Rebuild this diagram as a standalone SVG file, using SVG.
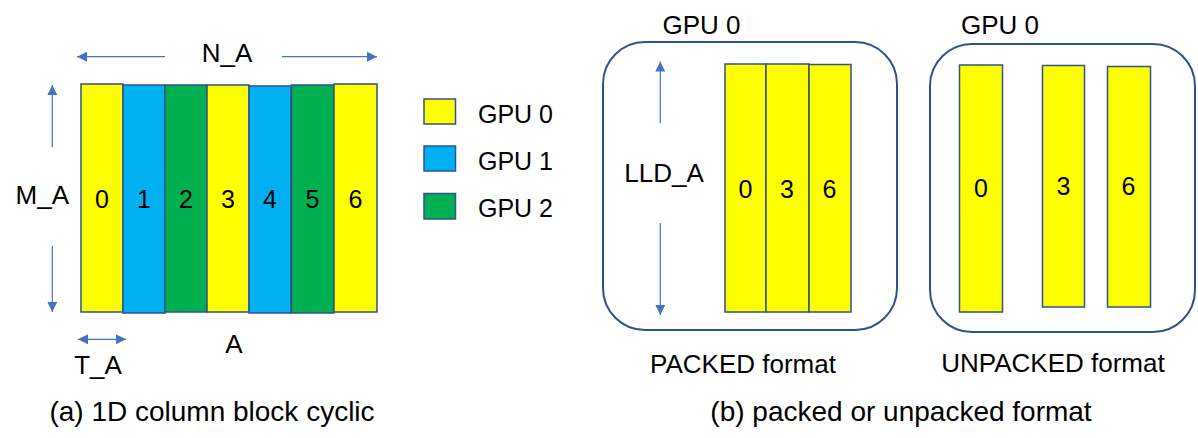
<svg xmlns="http://www.w3.org/2000/svg" width="1198" height="438" viewBox="0 0 1198 438">
<style>
text{font-family:"Liberation Sans",Arial,sans-serif;fill:#000;}
.lbl{font-size:26px;}
.dig{font-size:25px;text-anchor:middle;}
.cap{font-size:28px;text-anchor:middle;}
.y{fill:#FFFF00;stroke:#2F528F;stroke-width:1.5;}
.b{fill:#00B0F0;stroke:#2F528F;stroke-width:1.5;}
.g{fill:#00B050;stroke:#2F528F;stroke-width:1.5;}
.box{fill:none;stroke:#2F528F;stroke-width:2;}
.arr{stroke:#4472C4;stroke-width:1.2;fill:none;marker-end:url(#ah);}
.darr{stroke:#4472C4;stroke-width:1.2;fill:none;marker-end:url(#ah);marker-start:url(#ahs);}
</style>
<defs>
<marker id="ah" markerUnits="userSpaceOnUse" markerWidth="10" markerHeight="10" refX="10" refY="5" orient="auto"><path d="M0,0 L10,5 L0,10 z" fill="#4472C4"/></marker>
<marker id="ahs" markerUnits="userSpaceOnUse" markerWidth="10" markerHeight="10" refX="0" refY="5" orient="auto"><path d="M10,0 L0,5 L10,10 z" fill="#4472C4"/></marker>
</defs>
<g id="matrixA">
<rect class="y" x="81" y="84" width="42" height="228"/>
<rect class="b" x="123" y="85" width="42" height="228"/>
<rect class="g" x="165" y="85" width="42" height="227"/>
<rect class="y" x="207" y="85" width="42" height="227"/>
<rect class="b" x="249" y="86" width="42" height="227"/>
<rect class="g" x="291.5" y="85" width="42.5" height="228"/>
<rect class="y" x="334" y="84" width="43" height="228"/>
<text class="dig" x="102" y="208">0</text>
<text class="dig" x="144" y="208">1</text>
<text class="dig" x="186" y="208">2</text>
<text class="dig" x="228" y="208">3</text>
<text class="dig" x="270" y="208">4</text>
<text class="dig" x="312.5" y="208">5</text>
<text class="dig" x="355.5" y="208">6</text>
</g>
<g id="labelsA">
<text class="lbl" x="227" y="62" text-anchor="middle">N_A</text>
<text class="lbl" x="69" y="204" text-anchor="end">M_A</text>
<text class="lbl" x="98" y="374" text-anchor="middle">T_A</text>
<text class="lbl" x="234" y="353" text-anchor="middle">A</text>
<text class="cap" x="212" y="421">(a) 1D column block cyclic</text>
</g>
<g id="legend">
<rect class="y" x="424" y="99" width="31.5" height="25"/>
<rect class="b" x="424" y="146" width="31.5" height="25"/>
<rect class="g" x="424" y="193.5" width="31.5" height="25.5"/>
<text class="lbl" x="478" y="123" style="font-size:25px">GPU 0</text>
<text class="lbl" x="478" y="169.5" style="font-size:25px">GPU 1</text>
<text class="lbl" x="478" y="216.5" style="font-size:25px">GPU 2</text>
</g>
<g id="packed">
<rect class="box" x="603" y="42" width="294" height="288" rx="42" ry="42"/>
<rect class="y" x="725" y="64" width="41" height="248"/>
<rect class="y" x="766" y="64" width="43" height="248"/>
<rect class="y" x="809" y="64.5" width="42" height="247.5"/>
<text class="dig" x="745.5" y="198">0</text>
<text class="dig" x="787" y="198">3</text>
<text class="dig" x="829.5" y="198">6</text>
<text class="lbl" x="701.5" y="34" text-anchor="middle">GPU 0</text>
<text class="lbl" x="664" y="182" text-anchor="middle">LLD_A</text>
<text class="lbl" x="743" y="373" text-anchor="middle">PACKED format</text>
</g>
<g id="unpacked">
<rect class="box" x="930" y="44" width="265" height="288" rx="42" ry="42"/>
<rect class="y" x="959.5" y="65" width="43" height="247"/>
<rect class="y" x="1042.5" y="65.5" width="42" height="241.5"/>
<rect class="y" x="1107.5" y="66.5" width="43" height="240.5"/>
<text class="dig" x="981" y="197">0</text>
<text class="dig" x="1063.5" y="195">3</text>
<text class="dig" x="1128.5" y="195">6</text>
<text class="lbl" x="1000" y="33.5" text-anchor="middle">GPU 0</text>
<text class="lbl" x="1053" y="372" text-anchor="middle">UNPACKED format</text>
</g>
<text class="cap" x="901" y="421">(b) packed or unpacked format</text>
<g id="connectors">
<line class="arr" x1="165" y1="56.7" x2="77" y2="56.7"/>
<line class="arr" x1="282" y1="56.7" x2="377" y2="56.7"/>
<line class="arr" x1="52.3" y1="147" x2="52.3" y2="85"/>
<line class="arr" x1="52.3" y1="246" x2="52.3" y2="312"/>
<line class="darr" x1="78" y1="339.3" x2="126" y2="339.3"/>
<line class="arr" x1="660.3" y1="123" x2="660.3" y2="61.5"/>
<line class="arr" x1="660.3" y1="223" x2="660.3" y2="315"/>
</g>
</svg>
